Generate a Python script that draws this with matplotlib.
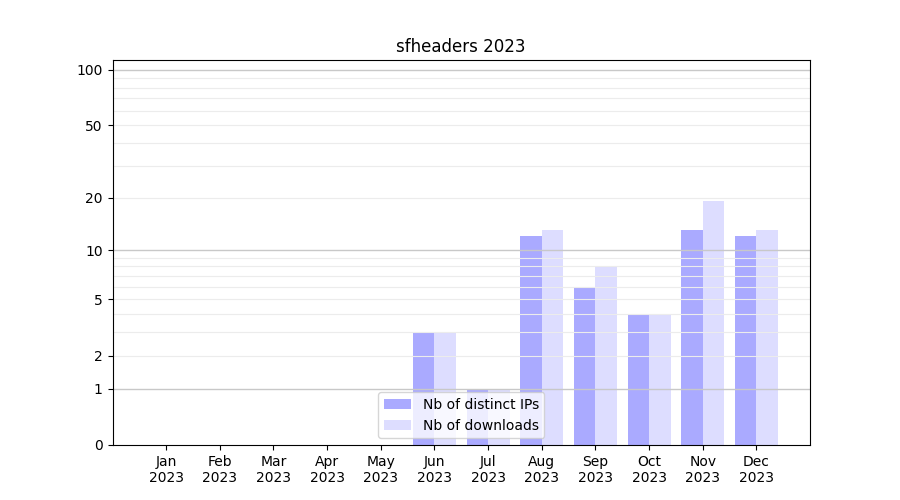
import numpy as np
import matplotlib
matplotlib.use("Agg")
import matplotlib.pyplot as plt
from matplotlib.ticker import FixedLocator, NullFormatter

# Daten
months = ["Jan", "Feb", "Mar", "Apr", "May", "Jun", "Jul", "Aug", "Sep", "Oct", "Nov", "Dec"]
year = "2023"
distinct_ips = [0, 0, 0, 0, 0, 3, 1, 12, 6, 4, 13, 12]
downloads = [0, 0, 0, 0, 0, 3, 1, 13, 8, 4, 19, 13]

y_major = [0, 1, 2, 5, 10, 20, 50, 100]
y_minor = [2, 3, 4, 5, 6, 7, 8, 9, 20, 30, 40, 50, 60, 70, 80, 90]


def fwd(y):
    return np.log10(1 + np.clip(y, 0, None))


def inv(y):
    return 10 ** y - 1


fig = plt.figure(figsize=(9, 5), dpi=100)
ax = fig.add_subplot(1, 1, 1)

x = np.arange(len(months))
w = 0.4
ax.bar(x - w / 2, distinct_ips, w, color="#aaaaff", label="Nb of distinct IPs")
ax.bar(x + w / 2, downloads, w, color="#ddddff", label="Nb of downloads")

ax.set_yscale("function", functions=(fwd, inv))
ax.set_ylim(0, 113)
ax.set_xlim(-1, 12)

ax.yaxis.set_major_locator(FixedLocator(y_major))
ax.yaxis.set_minor_locator(FixedLocator(y_minor))
ax.yaxis.set_minor_formatter(NullFormatter())
ax.set_yticklabels([str(v) for v in y_major])
ax.tick_params(axis="y", which="minor", length=0)

ax.set_xticks(x)
ax.set_xticklabels([m + "\n" + year for m in months])

# Gitter
for v in [1, 10, 100]:
    ax.axhline(v, color="#c8c8c8", linewidth=1, zorder=1.5)
for v in y_minor:
    if v not in (1, 10, 100):
        ax.axhline(v, color="#ececec", linewidth=0.8, zorder=1.5)

ax.set_title("sfheaders 2023")
ax.legend(loc="lower center")

fig.savefig("out.png")
